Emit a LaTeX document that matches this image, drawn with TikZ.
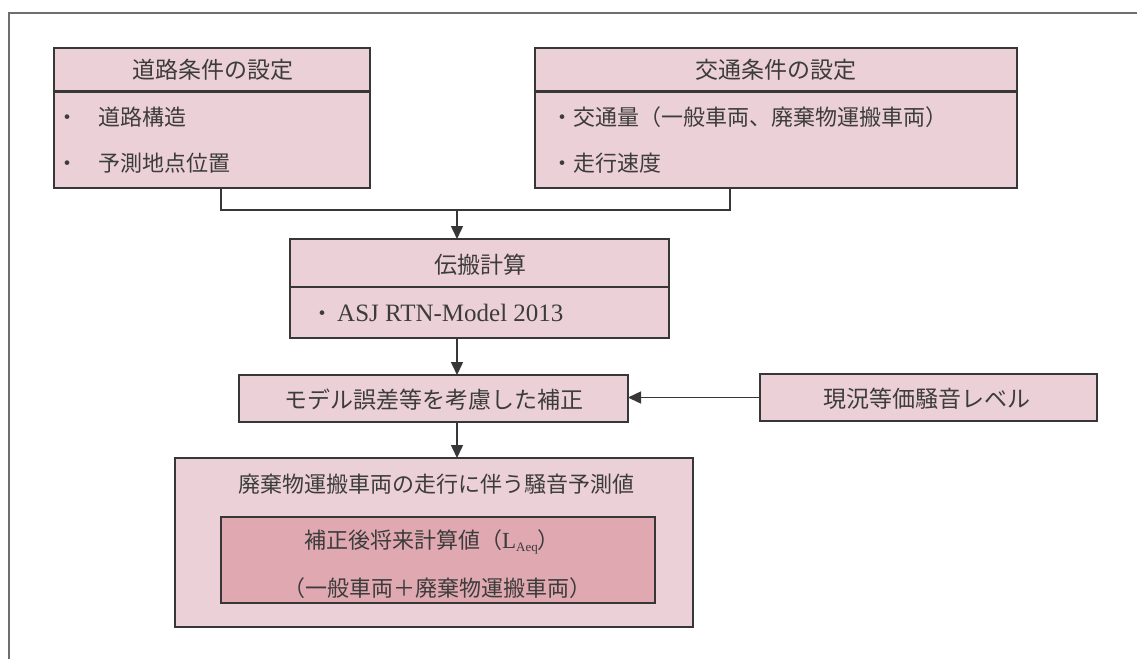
\documentclass[tikz,border=0pt]{standalone}
\usepackage{fontspec}
\setmainfont{Noto Sans CJK JP}
\newfontfamily\lat{Liberation Serif}
\usetikzlibrary{arrows.meta}
\definecolor{pinkA}{RGB}{236,208,216}
\definecolor{pinkB}{RGB}{224,168,176}
\definecolor{ink}{RGB}{55,55,55}
\definecolor{txt}{RGB}{60,60,60}
\definecolor{framegray}{RGB}{110,110,110}
\begin{document}
\begin{tikzpicture}[x=1pt,y=-1pt,
  box/.style={draw=ink,line width=1.5pt,fill=pinkA,inner sep=0pt,outer sep=0pt},
  lbl/.style={text=txt,font=\fontsize{22}{26}\selectfont,inner sep=0pt},
  hd/.style={text=txt,font=\fontsize{23}{27}\selectfont,inner sep=0pt},
  arr/.style={draw=ink,line width=1.5pt,-{Triangle[length=13pt,width=12pt]}},
  conn/.style={draw=ink,line width=1.5pt}]
\useasboundingbox (0,0) rectangle (1137,659);
\fill[white] (0,0) rectangle (1137,659);
\draw[framegray,line width=1.8pt] (9,659) -- (9,13) -- (1137,13);

% box 1
\node[box,minimum width=316pt,minimum height=43pt] (b1h) at (212,69.5) {};
\node[box,minimum width=316pt,minimum height=97pt] (b1b) at (212,139.5) {};
\draw[ink,line width=3pt] (b1h.south west) -- (b1h.south east);
\node[hd] (t1) at (213,70) {道路条件の設定};
\node[lbl,anchor=west] (t1a) at (56,117) {・\hspace{20pt}道路構造};
\node[lbl,anchor=west] (t1b) at (56,163) {・\hspace{20pt}予測地点位置};

% box 2
\node[box,minimum width=482pt,minimum height=43pt] (b2h) at (776,69.5) {};
\node[box,minimum width=482pt,minimum height=97pt] (b2b) at (776,139.5) {};
\draw[ink,line width=3pt] (b2h.south west) -- (b2h.south east);
\node[hd] (t2) at (776,70) {交通条件の設定};
\node[lbl,anchor=west] (t2a) at (551,117) {・交通量（一般車両、廃棄物運搬車両）};
\node[lbl,anchor=west] (t2b) at (551,163) {・走行速度};

% junction
\coordinate (j1) at (221,210);
\coordinate (j2) at (730,210);
\coordinate (j3) at (457,210);
\draw[conn] (j1 |- b1b.south) -- (j1) -- (j2) -- (j2 |- b2b.south);

% box 3
\node[box,minimum width=379pt,minimum height=48pt] (b3h) at (479.5,263) {};
\node[box,minimum width=379pt,minimum height=51pt] (b3b) at (479.5,312.5) {};
\draw[ink,line width=2pt] (b3h.south west) -- (b3h.south east);
\node[hd] (t3) at (480,265) {伝搬計算};
\node[lbl,anchor=west] (t3a) at (311,313) {・\hspace{4pt}{\lat\fontsize{25}{28}\selectfont ASJ RTN-Model 2013}};

% box 4
\node[box,minimum width=389pt,minimum height=47pt] (b4) at (433.5,398.5) {};
\node[hd] (t4) at (434,400) {モデル誤差等を考慮した補正};

% box 5
\node[box,minimum width=337pt,minimum height=47pt] (b5) at (928.5,397.5) {};
\node[hd] (t5) at (927,399) {現況等価騒音レベル};

% box 6
\node[box,minimum width=518pt,minimum height=169pt] (b6) at (434,542.5) {};
\node[lbl] (t6) at (436,484) {廃棄物運搬車両の走行に伴う騒音予測値};
\node[box,fill=pinkB,minimum width=434pt,minimum height=86pt] (b7) at (438,560) {};
\node[lbl] (t7a) at (432,542) {補正後将来計算値（{\lat\fontsize{23}{26}\selectfont L\raisebox{-0.35ex}{\fontsize{13}{14}\selectfont Aeq}}）};
\node[lbl] (t7b) at (437,588) {（一般車両＋廃棄物運搬車両）};

% arrows
\draw[arr] (j3) -- (j3 |- b3h.north);
\draw[arr] (j3 |- b3b.south) -- (j3 |- b4.north);
\draw[arr] (j3 |- b4.south) -- (j3 |- b6.north);
\draw[arr] (b5.west) -- (b5.west -| b4.east);
\end{tikzpicture}
\end{document}
